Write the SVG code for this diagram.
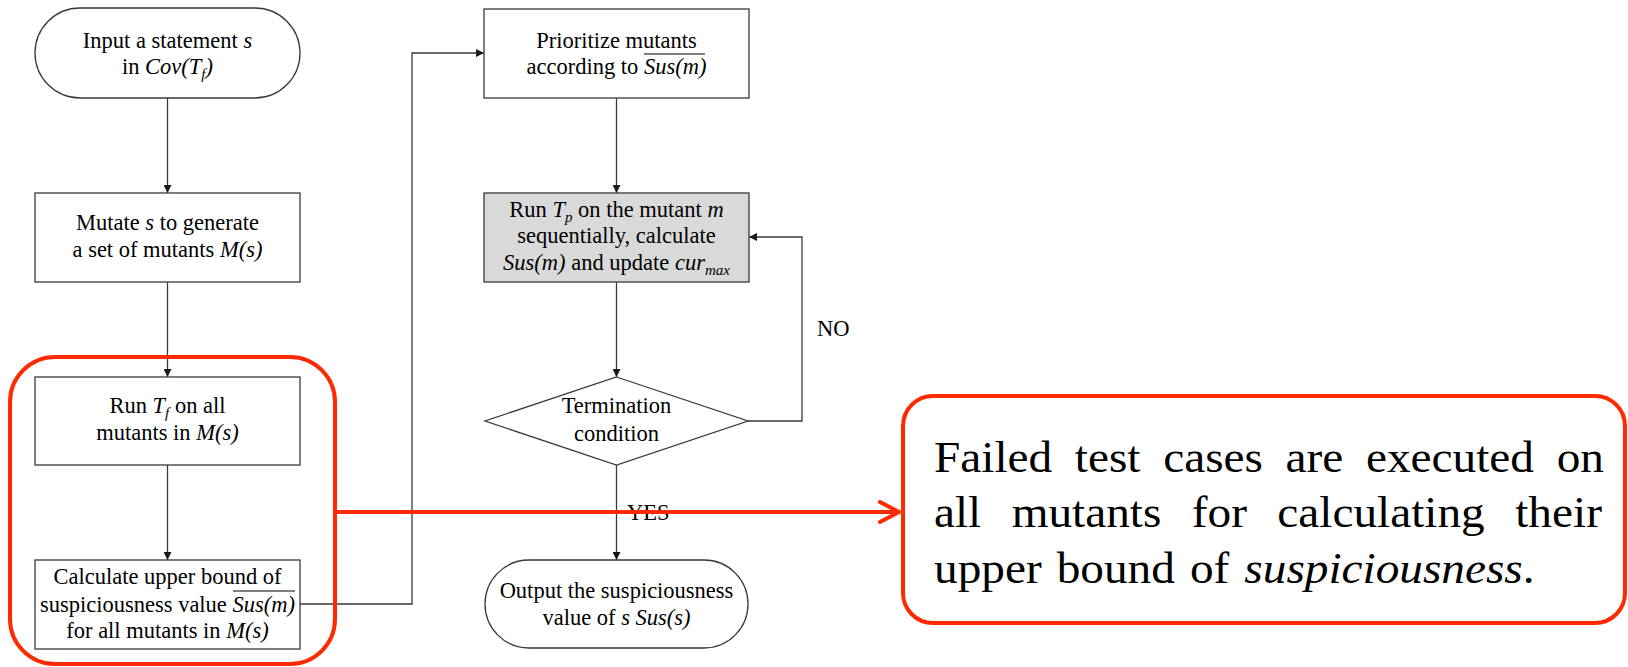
<svg xmlns="http://www.w3.org/2000/svg" width="1628" height="667" viewBox="0 0 1628 667">
<style>
.box{fill:#fff;stroke:#3a3a3a;stroke-width:1.3}
.gray{fill:#d9d9d9;stroke:#3a3a3a;stroke-width:1.3}
.t{font-family:"Liberation Serif",Tinos,"Times New Roman",serif;font-size:22.5px;fill:#000;text-anchor:middle}
.l{font-family:"Liberation Serif",Tinos,"Times New Roman",serif;font-size:22.5px;fill:#000}
.i{font-style:italic}
.sub{font-size:15px}
.conn{fill:none;stroke:#3a3a3a;stroke-width:1.3}
.ov{stroke:#000;stroke-width:1.2}
.red{fill:none;stroke:#ff2a00;stroke-width:4;stroke-linejoin:round;stroke-linecap:round}
.call{font-family:"Liberation Serif",Tinos,"Times New Roman",serif;font-size:44px;fill:#000}
</style>
<defs>
<marker id="ah" viewBox="0 0 10 10" refX="10" refY="5" markerWidth="9" markerHeight="8" markerUnits="userSpaceOnUse" orient="auto">
<path d="M0,0 L10,5 L0,10 z" fill="#1a1a1a"/>
</marker>
</defs>

<g id="connectors">
<line class="conn" x1="167.5" y1="98" x2="167.5" y2="193" marker-end="url(#ah)"/>
<line class="conn" x1="167.5" y1="282" x2="167.5" y2="377" marker-end="url(#ah)"/>
<line class="conn" x1="167.5" y1="465" x2="167.5" y2="560" marker-end="url(#ah)"/>
<polyline class="conn" points="300,604 412,604 412,53 484,53" marker-end="url(#ah)"/>
<line class="conn" x1="616.5" y1="98" x2="616.5" y2="193" marker-end="url(#ah)"/>
<line class="conn" x1="616.5" y1="282" x2="616.5" y2="377" marker-end="url(#ah)"/>
<line class="conn" x1="616.5" y1="465" x2="616.5" y2="560" marker-end="url(#ah)"/>
<polyline class="conn" points="748,421 802,421 802,237 749,237" marker-end="url(#ah)"/>
<text class="l" x="817" y="336">NO</text>
<text class="l" x="627" y="520">YES</text>
</g>

<g id="n1">
<rect class="box" x="35" y="8" width="265" height="90" rx="45"/>
<text class="t" x="167.5" y="48">Input a statement <tspan class="i">s</tspan></text>
<text class="t" x="167.5" y="74">in <tspan class="i">Cov(T<tspan class="sub" dy="5">f</tspan><tspan dy="-5">)</tspan></tspan></text>
</g>

<g id="n2">
<rect class="box" x="35" y="193" width="265" height="89"/>
<text class="t" x="167.5" y="230">Mutate <tspan class="i">s</tspan> to generate</text>
<text class="t" x="167.5" y="257">a set of mutants <tspan class="i">M(s)</tspan></text>
</g>

<g id="n3">
<rect class="box" x="35" y="377" width="265" height="88"/>
<text class="t" x="167.5" y="413">Run <tspan class="i">T<tspan class="sub" dy="5">f</tspan></tspan><tspan dy="-5"> on all</tspan></text>
<text class="t" x="167.5" y="440">mutants in <tspan class="i">M(s)</tspan></text>
</g>

<g id="n4">
<rect class="box" x="35" y="560" width="265" height="89"/>
<text class="t" x="167.5" y="584">Calculate upper bound of</text>
<text class="t" x="167.5" y="612">suspiciousness value <tspan class="i">Sus(m)</tspan></text>
<line class="ov" x1="233" y1="591" x2="295" y2="591"/>
<text class="t" x="167.5" y="638">for all mutants in <tspan class="i">M(s)</tspan></text>
</g>

<g id="n5">
<rect class="box" x="484" y="9" width="265" height="89"/>
<text class="t" x="616.5" y="48">Prioritize mutants</text>
<text class="t" x="616.5" y="74">according to <tspan class="i">Sus(m)</tspan></text>
<line class="ov" x1="644" y1="54" x2="705" y2="54"/>
</g>

<g id="n6">
<rect class="gray" x="484" y="193" width="265" height="89"/>
<text class="t" x="616.5" y="217">Run <tspan class="i">T<tspan class="sub" dy="5">p</tspan></tspan><tspan dy="-5"> on the mutant </tspan><tspan class="i">m</tspan></text>
<text class="t" x="616.5" y="243">sequentially, calculate</text>
<text class="t" x="616.5" y="270"><tspan class="i">Sus(m)</tspan> and update <tspan class="i">cur<tspan class="sub" dy="5">max</tspan></tspan></text>
</g>

<g id="n7">
<polygon class="box" points="616.5,377 748,421 616.5,465 485,421"/>
<text class="t" x="616.5" y="413">Termination</text>
<text class="t" x="616.5" y="441">condition</text>
</g>

<g id="n8">
<rect class="box" x="485" y="560" width="263" height="88" rx="44"/>
<text class="t" x="616.5" y="598">Output the suspiciousness</text>
<text class="t" x="616.5" y="625">value of <tspan class="i">s Sus(s)</tspan></text>
</g>

<g id="highlight">
<rect class="red" x="10" y="357" width="325" height="307" rx="45"/>
<line class="red" x1="335" y1="512" x2="898" y2="512"/>
<polyline class="red" points="880,502 899,512 880,522"/>
</g>

<g id="callout">
<rect class="red" x="903" y="396" width="722" height="227" rx="30"/>
<g transform="translate(934,0) scale(1.075,1)">
<text class="call" y="472"><tspan x="0">Failed</tspan><tspan x="131">test</tspan><tspan x="213.2">cases</tspan><tspan x="327.1">are</tspan><tspan x="401.8">executed</tspan><tspan x="579.3">on</tspan></text>
<text class="call" y="527"><tspan x="0">all</tspan><tspan x="72.3">mutants</tspan><tspan x="239.8">for</tspan><tspan x="319.4">calculating</tspan><tspan x="540.7">their</tspan></text>
<text class="call" x="0" y="583" word-spacing="3">upper bound of <tspan class="i">suspiciousness</tspan>.</text>
</g>
</g>
</svg>
